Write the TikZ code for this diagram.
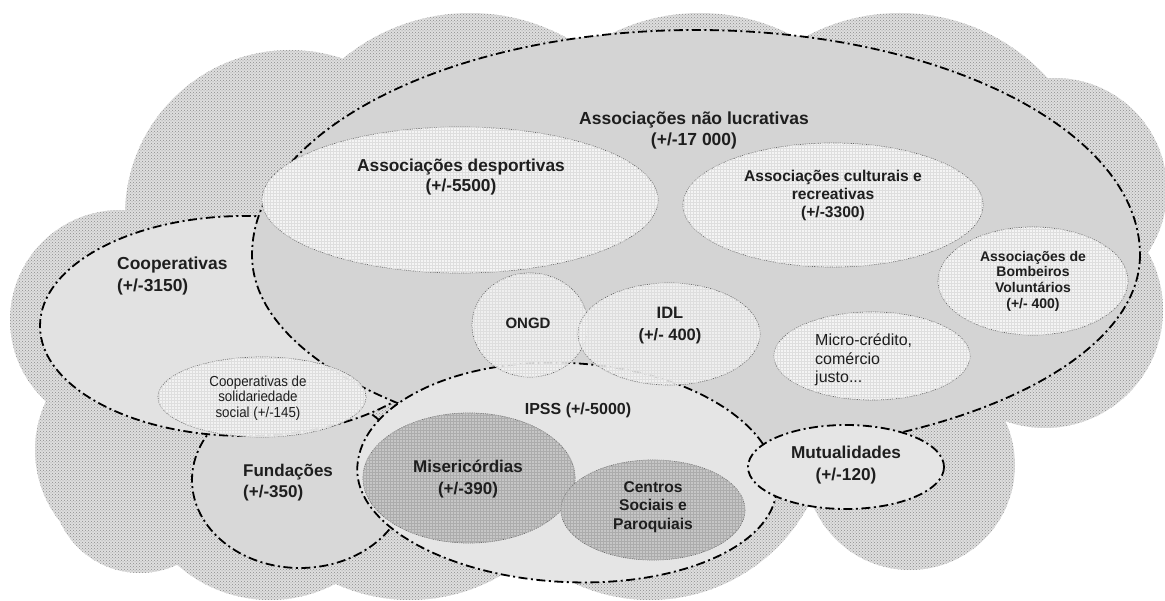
\documentclass[tikz,border=0pt]{standalone}
\usepackage{fontspec}
\setmainfont{Liberation Sans}
\newfontfamily\narrowfont{Liberation Sans}[FakeStretch=0.92]
\usetikzlibrary{patterns}

\definecolor{cloudbase}{RGB}{222,222,222}
\definecolor{clouddot}{RGB}{140,140,140}
\definecolor{bigfill}{RGB}{212,212,212}
\definecolor{coopfill}{RGB}{226,226,226}
\definecolor{fundfill}{RGB}{216,216,216}
\definecolor{ipssfill}{RGB}{229,229,229}
\definecolor{lightfill}{RGB}{244,244,244}
\definecolor{darkfill}{RGB}{198,198,198}
\definecolor{gridline}{RGB}{222,222,222}
\definecolor{darkgrid}{RGB}{172,172,172}
\definecolor{rimgray}{RGB}{105,105,105}
\definecolor{inkgray}{RGB}{30,30,30}

\tikzset{
  dashdot/.style={draw=black, line width=1.8pt,
    dash pattern=on 9pt off 3.5pt on 2pt off 3.5pt},
  dottedrim/.style={draw=rimgray, line width=0.7pt,
    dash pattern=on 1.2pt off 1pt},
  lightset/.style={dottedrim, fill=lightfill},
  darkset/.style={dottedrim, fill=darkfill},
  bsize/.style 2 args={font=\fontsize{#1}{#2}\selectfont\bfseries},
  lbl/.style={text=inkgray, align=center, inner sep=0pt},
  plainlbl/.style={text=inkgray, inner sep=0pt}
}

\begin{document}
\begin{tikzpicture}[x=1pt, y=-1pt]
\useasboundingbox (0,0) rectangle (1165,601);

% ---- cloud made of overlapping discs ----
\def\cloudshape{
  (120,320) circle (110)
  (290,215) circle (165)
  (470,213) circle (200)
  (700,213) circle (200)
  (900,213) circle (200)
  (1055,190) circle (112)
  (1045,310) circle (118)
  (910,465) circle (105)
  (650,420) circle (180)
  (410,420) circle (180)
  (270,460) circle (140)
  (150,450) circle (115)
  (140,485) circle (88)
}
\fill[cloudbase] \cloudshape;
\fill[pattern=crosshatch dots, pattern color=clouddot] \cloudshape;

% ---- foundations ----
\path[dashdot, fill=fundfill] (300,480) ellipse [x radius=108, y radius=88];

% ---- cooperatives ----
\path[dashdot, fill=coopfill] (245,326) ellipse [x radius=205, y radius=110];

% ---- non-profit associations (flatter lower half) ----
\path[dashdot, fill=bigfill] (696,255) ++(444,0)
  arc[start angle=0, end angle=180, x radius=444, y radius=200]
  arc[start angle=180, end angle=360, x radius=444, y radius=225] -- cycle;

% ---- IPSS ----
\path[dashdot, fill=ipssfill, rotate around={-3:(567,478)}] (567,478) ++(210,0)
  arc[start angle=0, end angle=180, x radius=210, y radius=104]
  arc[start angle=180, end angle=360, x radius=210, y radius=115] -- cycle;

% ---- mutual societies ----
\path[dashdot, fill=ipssfill] (846,467) ellipse [x radius=98, y radius=42];

% ---- inner sets ----
\def\grd#1{\fill[pattern=grid, pattern color=#1]}
\path[lightset] (460,200) ellipse [x radius=198, y radius=73];
\grd{gridline} (460,200) ellipse [x radius=198, y radius=73];
\path[lightset] (833,205) ellipse [x radius=150, y radius=62];
\grd{gridline} (833,205) ellipse [x radius=150, y radius=62];
\path[lightset] (1033,281) ellipse [x radius=95, y radius=54];
\grd{gridline} (1033,281) ellipse [x radius=95, y radius=54];
\path[lightset] (872,356) ellipse [x radius=98, y radius=44];
\grd{gridline} (872,356) ellipse [x radius=98, y radius=44];
\path[lightset, fill opacity=0.85] (530,325) ellipse [x radius=58, y radius=52];
\grd{gridline} (530,325) ellipse [x radius=58, y radius=52];
\path[lightset, fill opacity=0.85] (669,334) ellipse [x radius=91, y radius=51];
\grd{gridline} (669,334) ellipse [x radius=91, y radius=51];
\path[lightset, fill opacity=0.9] (262,397) ellipse [x radius=104, y radius=40];
\grd{gridline} (262,397) ellipse [x radius=104, y radius=40];
\path[darkset] (469,478) ellipse [x radius=106, y radius=65];
\grd{darkgrid} (469,478) ellipse [x radius=106, y radius=65];
\path[darkset] (653,510) ellipse [x radius=92, y radius=50];
\grd{darkgrid} (653,510) ellipse [x radius=92, y radius=50];

% ---- labels ----
\node[lbl, bsize={17.5}{21}] (tNonProfit) at (694,130) {Associações não lucrativas\\(+/-17 000)};
\node[lbl, bsize={17.3}{20}] (tSport) at (461,177) {Associações desportivas\\(+/-5500)};
\node[lbl, bsize={15.6}{18}] (tCulture) at (833,195) {Associações culturais e\\recreativas\\(+/-3300)};
\node[lbl, bsize={14}{15.7}] (tFire) at (1033,281) {Associações de\\Bombeiros\\Voluntários\\(+/- 400)};
\node[lbl, align=left, anchor=west, bsize={17.4}{22}] (tCoop) at (117,276) {Cooperativas\\(+/-3150)};
\node[lbl, bsize={15}{18}] (tOngd) at (528,323) {ONGD};
\node[lbl, bsize={16.5}{22}] (tIdl) at (670,326) {IDL\\(+/- 400)};
\node[plainlbl, align=left, anchor=west, font=\fontsize{16}{18.7}\selectfont] (tMicro) at (815,360) {Micro-crédito,\\comércio\\justo...};
\node[plainlbl, align=center, font=\narrowfont\fontsize{14.5}{15.7}\selectfont] (tCoopSol) at (258,398) {Cooperativas de\\solidariedade\\social (+/-145)};
\node[lbl, bsize={16}{19}] (tIpss) at (578,410) {IPSS (+/-5000)};
\node[lbl, align=left, anchor=west, bsize={17}{21}] (tFund) at (243,483) {Fundações\\(+/-350)};
\node[lbl, bsize={17}{22}] (tMiser) at (468,479) {Misericórdias\\(+/-390)};
\node[lbl, bsize={15.6}{18.5}] (tCentros) at (653,507) {Centros\\Sociais e\\Paroquiais};
\node[lbl, bsize={17.2}{22}] (tMutual) at (846,465) {Mutualidades\\(+/-120)};
\end{tikzpicture}
\end{document}
